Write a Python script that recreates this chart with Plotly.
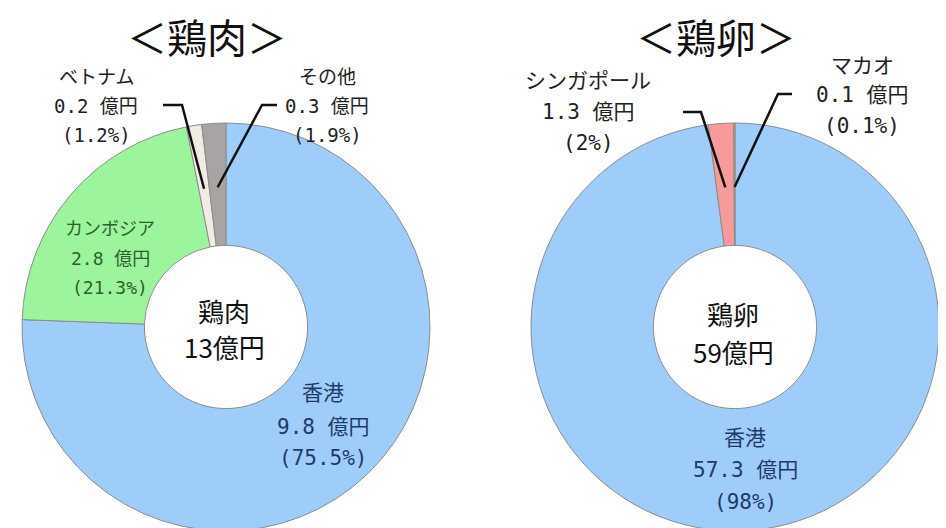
import math
import plotly.graph_objects as go

W, H = 946, 528
OFF = 8  # page body margin of the html output

# ---- data ----
meat_countries = ["香港", "カンボジア", "ベトナム", "その他"]
meat_oku = [9.8, 2.8, 0.2, 0.3]
meat_share = [75.5, 21.3, 1.2, 1.9]
meat_total = 13

egg_countries = ["香港", "シンガポール", "マカオ"]
egg_oku = [57.3, 1.3, 0.1]
egg_share = [98, 2, 0.1]
egg_total = 59

meat_colors = ["#9FCDFA", "#9CF59C", "#F1EBE4", "#A9A4A4"]
egg_colors = ["#9FCDFA", "#F79A9A", "#E3A57A"]

FONT = "Noto Sans CJK JP"
MONO = "DejaVu Sans Mono, Noto Sans CJK JP"

# layout geometry (screen pixels)
R = 204
HOLE = 0.40
LEFT_C = (226, 327)
RIGHT_C = (735, 327)


def px(x):
    return (x - OFF) / W


def py(y):
    return 1 - (y - OFF) / H


def domain(c):
    cx, cy = c
    return dict(x=[px(cx - R), px(cx + R)], y=[max(0, py(cy + R)), min(1, py(cy - R))])


fig = go.Figure()
for c, labels, share, colors in [
    (LEFT_C, meat_countries, meat_share, meat_colors),
    (RIGHT_C, egg_countries, egg_share, egg_colors),
]:
    fig.add_trace(go.Pie(
        labels=labels, values=share, sort=False, direction="clockwise", rotation=0,
        hole=HOLE, domain=domain(c), textinfo="none", showlegend=False,
        marker=dict(colors=colors, line=dict(color="#8C8C8C", width=1)),
    ))

annotations = []
shapes = []


def text(x, y, s, size, color="#222222", family=FONT):
    annotations.append(dict(x=px(x), y=py(y), xref="paper", yref="paper", text=s,
                            showarrow=False, xanchor="center", yanchor="middle",
                            font=dict(family=family, size=size, color=color)))


def label_block(x, ys, lines, size, color="#222222"):
    for y, s in zip(ys, lines):
        text(x, y, s, size, color, MONO)


def mid_point(c, share, i, rr):
    tot = sum(share)
    a = (sum(share[:i]) + share[i] / 2) / tot * 2 * math.pi
    return c[0] + rr * math.sin(a), c[1] - rr * math.cos(a)


def leader(c, share, i, p0, p1):
    ex, ey = mid_point(c, share, i, 140)
    path = "M {},{} L {},{} L {},{}".format(px(p0[0]), py(p0[1]), px(p1[0]), py(p1[1]), px(ex), py(ey))
    shapes.append(dict(type="path", path=path, xref="paper", yref="paper",
                       line=dict(color="#111111", width=2.5)))


def fmt_pct(v):
    return "({}%)".format(v)


# titles
text(207, 36, "＜鶏肉＞", 40, "#111111")
text(716, 36, "＜鶏卵＞", 40, "#111111")

# centre texts
text(LEFT_C[0] - 2, 310, "鶏肉", 26, "#111111")
text(LEFT_C[0] - 2, 346, f"{meat_total}億円", 26, "#111111")
text(RIGHT_C[0] - 2, 313, "鶏卵", 26, "#111111")
text(RIGHT_C[0] - 2, 351, f"{egg_total}億円", 26, "#111111")

# meat labels
label_block(96, [77, 106, 135], [meat_countries[2], f"{meat_oku[2]} 億円", fmt_pct(meat_share[2])], 19)
label_block(327, [77, 106, 135], [meat_countries[3], f"{meat_oku[3]} 億円", fmt_pct(meat_share[3])], 19)
label_block(110, [228, 258, 287], [meat_countries[1], f"{meat_oku[1]} 億円", fmt_pct(meat_share[1])], 18, "#2E5E2E")
label_block(323, [393, 427, 458], [meat_countries[0], f"{meat_oku[0]} 億円", fmt_pct(meat_share[0])], 21, "#1F3A68")
leader(LEFT_C, meat_share, 2, (163, 105), (182, 105))
leader(LEFT_C, meat_share, 3, (277, 105), (262, 105))

# egg labels
label_block(588, [81, 112, 143], [egg_countries[1], f"{egg_oku[1]} 億円", fmt_pct(egg_share[1])], 21)
label_block(862, [66, 95, 126], [egg_countries[2], f"{egg_oku[2]} 億円", fmt_pct(egg_share[2])], 21)
label_block(745, [438, 470, 502], [egg_countries[0], f"{egg_oku[0]} 億円", fmt_pct(egg_share[0])], 21, "#1F3A68")
leader(RIGHT_C, egg_share, 1, (683, 112), (701, 112))
leader(RIGHT_C, egg_share, 2, (792, 94), (778, 94))

fig.update_layout(
    width=W, height=H, margin=dict(l=0, r=0, t=0, b=0),
    paper_bgcolor="white", plot_bgcolor="white",
    annotations=annotations, shapes=shapes,
    font=dict(family=FONT),
)

fig.write_html("out.html")
